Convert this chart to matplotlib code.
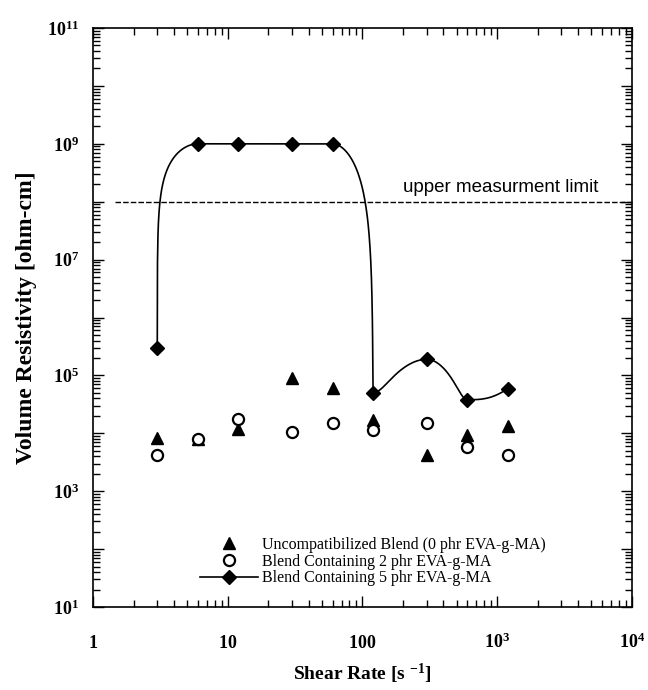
import numpy as np
import matplotlib
matplotlib.use("Agg")
import matplotlib.pyplot as plt
from matplotlib.ticker import FixedLocator, LogLocator, FuncFormatter, NullFormatter

# shear rate [1/s] and volume resistivity [ohm-cm]
shear = [3, 6, 12, 30, 60, 120, 300, 600, 1200]
res_0phr = [8.3e3, 8.0e3, 1.2e4, 9.0e4, 6.0e4, 1.7e4, 4.3e3, 9.4e3, 1.35e4]
res_2phr = [4.2e3, 8.0e3, 1.8e4, 1.05e4, 1.5e4, 1.15e4, 1.5e4, 5.8e3, 4.3e3]
res_5phr = [3.0e5, 1.0e9, 1.0e9, 1.0e9, 1.0e9, 5.0e4, 1.9e5, 3.8e4, 5.9e4]

labels = ["Uncompatibilized Blend (0 phr EVA-g-MA)",
          "Blend Containing 2 phr EVA-g-MA",
          "Blend Containing 5 phr EVA-g-MA"]

upper_limit = 1e8
limit_start = 1.45
limit_text = "upper measurment limit"

xticks = [1, 10, 100, 1e3, 1e4]
xtick_labels = [r"$\mathbf{1}$", r"$\mathbf{10}$", r"$\mathbf{100}$",
                r"$\mathbf{10^{3}}$", r"$\mathbf{10^{4}}$"]
ytick_exps = list(range(1, 12))

plt.rcParams["font.family"] = "Liberation Serif"
plt.rcParams["mathtext.fontset"] = "custom"
plt.rcParams["mathtext.rm"] = "Liberation Serif:bold"
plt.rcParams["mathtext.bf"] = "Liberation Serif:bold"
plt.rcParams["mathtext.it"] = "Liberation Serif:bold"


def pchip(x, y, xs):
    # monotone cubic (Fritsch-Carlson), used for the smoothed line only
    x = np.asarray(x, float)
    y = np.asarray(y, float)
    h = np.diff(x)
    d = np.diff(y) / h
    n = len(x)
    m = np.zeros(n)
    for k in range(1, n - 1):
        if d[k - 1] * d[k] > 0:
            w1 = 2 * h[k] + h[k - 1]
            w2 = h[k] + 2 * h[k - 1]
            m[k] = (w1 + w2) / (w1 / d[k - 1] + w2 / d[k])

    def end(h0, h1, d0, d1):
        s = ((2 * h0 + h1) * d0 - h0 * d1) / (h0 + h1)
        if np.sign(s) != np.sign(d0):
            return 0.0
        if np.sign(d0) != np.sign(d1) and abs(s) > 3 * abs(d0):
            return 3 * d0
        return s

    m[0] = end(h[0], h[1], d[0], d[1])
    m[-1] = end(h[-1], h[-2], d[-1], d[-2])
    idx = np.clip(np.searchsorted(x, xs) - 1, 0, n - 2)
    t = (xs - x[idx]) / h[idx]
    h00 = 2 * t**3 - 3 * t**2 + 1
    h10 = t**3 - 2 * t**2 + t
    h01 = -2 * t**3 + 3 * t**2
    h11 = t**3 - t**2
    return h00 * y[idx] + h10 * h[idx] * m[idx] + h01 * y[idx + 1] + h11 * h[idx] * m[idx + 1]


fig = plt.figure(figsize=(6.48, 6.90), dpi=100)
ax = fig.add_axes([0.1435, 0.1203, 0.8315, 0.8391])
ax.set_xscale("log")
ax.set_yscale("log")
ax.set_xlim(1, 1e4)
ax.set_ylim(1e1, 1e11)

# smooth curve for 5 phr
u = np.log10(shear)
us = np.linspace(u[0], u[-1], 1500)
ys = pchip(u, res_5phr, us)

ax.plot(shear, res_0phr, linestyle="none", marker="^", color="black",
        markersize=8.5, label=labels[0])
ax.plot(shear, res_2phr, linestyle="none", marker="o", markerfacecolor="white",
        markeredgecolor="black", markeredgewidth=1.6, markersize=8, label=labels[1])
ax.plot(10**us, ys, color="black", linewidth=1.2)
ax.plot(shear, res_5phr, linestyle="none", marker="D", color="black", markersize=7)
h5, = ax.plot([], [], color="black", linewidth=1.2, marker="D", markersize=7, label=labels[2])

ax.plot([limit_start, 1e4], [upper_limit, upper_limit], color="black",
        linestyle=(0, (4, 1.5)), linewidth=1.0)
ax.text(10**3.75, 1.75e8, limit_text, ha="right", va="center",
        family="Liberation Sans", fontsize=13.5)

ax.set_xticks(xticks)
ax.set_xticklabels(xtick_labels, va="baseline")
ax.xaxis.set_minor_locator(LogLocator(base=10, subs=np.arange(2, 10), numticks=100))
ax.xaxis.set_minor_formatter(NullFormatter())

ax.yaxis.set_major_locator(FixedLocator([10.0**e for e in ytick_exps]))
ax.yaxis.set_major_formatter(FuncFormatter(
    lambda v, p: r"$\mathbf{10^{%d}}$" % round(np.log10(v)) if round(np.log10(v)) % 2 == 1 else ""))
ax.yaxis.set_minor_locator(LogLocator(base=10, subs=np.arange(2, 10), numticks=100))
ax.yaxis.set_minor_formatter(NullFormatter())

ax.tick_params(which="both", direction="in", top=True, right=True, width=1.0)
ax.tick_params(which="major", length=8, labelsize=13)
ax.tick_params(which="minor", length=5)
ax.tick_params(axis="x", which="major", pad=29.5)
ax.tick_params(axis="y", which="major", pad=10)
for s in ax.spines.values():
    s.set_linewidth(1.2)

ax.set_xlabel(r"Shear Rate [s $^{\mathbf{-1}}$]", fontsize=14, fontweight="bold", labelpad=7)
ax.set_ylabel("Volume Resistivity [ohm-cm]", fontsize=17, fontweight="bold", labelpad=7)

handles, _ = ax.get_legend_handles_labels()
ax.legend(handles=[handles[0], handles[1], h5], labels=labels, loc="lower left",
          bbox_to_anchor=(0.184, 0.022), frameon=False, fontsize=11.5,
          handlelength=3.6, handletextpad=0.3, labelspacing=0.04, borderpad=0,
          numpoints=1)

fig.savefig("out.png", dpi=100)
